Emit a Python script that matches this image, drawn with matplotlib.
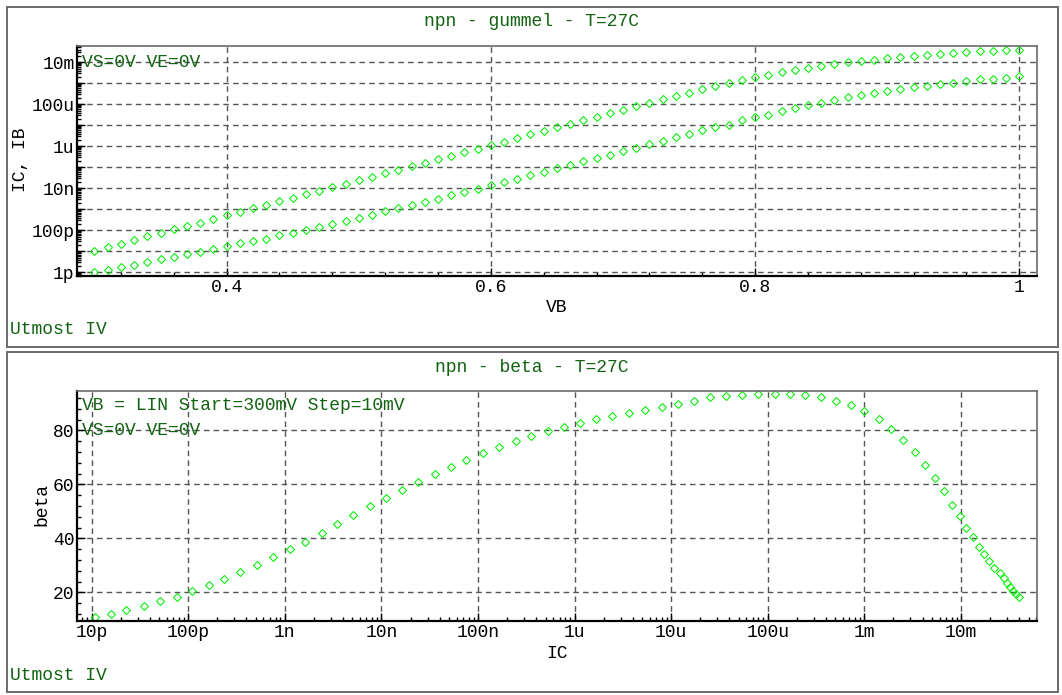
import numpy as np
import matplotlib
matplotlib.use('Agg')
import matplotlib.pyplot as plt
from matplotlib.patches import Rectangle
from matplotlib.ticker import FixedLocator, MultipleLocator, FuncFormatter, NullFormatter

# sweep VB = LIN start=300mV step=10mV
vb = [0.30, 0.31, 0.32, 0.33, 0.34, 0.35, 0.36, 0.37, 0.38, 0.39,
      0.40, 0.41, 0.42, 0.43, 0.44, 0.45, 0.46, 0.47, 0.48, 0.49,
      0.50, 0.51, 0.52, 0.53, 0.54, 0.55, 0.56, 0.57, 0.58, 0.59,
      0.60, 0.61, 0.62, 0.63, 0.64, 0.65, 0.66, 0.67, 0.68, 0.69,
      0.70, 0.71, 0.72, 0.73, 0.74, 0.75, 0.76, 0.77, 0.78, 0.79,
      0.80, 0.81, 0.82, 0.83, 0.84, 0.85, 0.86, 0.87, 0.88, 0.89,
      0.90, 0.91, 0.92, 0.93, 0.94, 0.95, 0.96, 0.97, 0.98, 0.99, 1.00]

# log10(IC)
log_ic = [-10.97, -10.80, -10.64, -10.46, -10.29, -10.12, -9.96, -9.79, -9.63, -9.46,
          -9.29, -9.12, -8.95, -8.79, -8.62, -8.46, -8.29, -8.12, -7.95, -7.79,
          -7.62, -7.45, -7.28, -7.12, -6.95, -6.78, -6.61, -6.45, -6.28, -6.11,
          -5.94, -5.78, -5.61, -5.44, -5.27, -5.10, -4.93, -4.76, -4.60, -4.43,
          -4.27, -4.10, -3.93, -3.77, -3.61, -3.45, -3.29, -3.14, -3.00, -2.85,
          -2.72, -2.60, -2.48, -2.37, -2.27, -2.18, -2.09, -2.01, -1.945, -1.873,
          -1.81, -1.76, -1.71, -1.655, -1.60, -1.555, -1.52, -1.49, -1.46, -1.43, -1.40]

# log10(IB)
log_ib = [-12.00, -11.89, -11.76, -11.67, -11.51, -11.38, -11.27, -11.14, -11.03, -10.91,
          -10.76, -10.62, -10.53, -10.40, -10.24, -10.12, -9.98, -9.84, -9.69, -9.55,
          -9.40, -9.25, -9.10, -8.96, -8.81, -8.65, -8.49, -8.34, -8.18, -8.02,
          -7.86, -7.70, -7.54, -7.38, -7.21, -7.05, -6.88, -6.72, -6.56, -6.40,
          -6.23, -6.07, -5.90, -5.74, -5.58, -5.41, -5.23, -5.10, -4.98, -4.77,
          -4.63, -4.49, -4.34, -4.20, -4.06, -3.92, -3.81, -3.68, -3.58, -3.46,
          -3.38, -3.30, -3.20, -3.11, -3.05, -2.97, -2.91, -2.81, -2.78, -2.73, -2.68]

beta = [10.7, 11.9, 13.3, 14.8, 16.7, 18.4, 20.4, 22.6, 25.0, 27.4,
        30.0, 33.0, 35.9, 38.7, 42.0, 45.3, 48.6, 51.8, 55.0, 58.0,
        60.9, 63.7, 66.4, 69.0, 71.5, 73.8, 76.0, 78.0, 79.8, 81.4,
        82.8, 84.1, 85.3, 86.5, 87.7, 88.8, 89.9, 91.0, 92.2, 92.7,
        92.9, 93.3, 93.3, 93.3, 92.9, 92.2, 90.7, 89.3, 87.0, 84.1,
        80.4, 76.3, 71.9, 67.0, 62.2, 57.4, 52.4, 48.1, 43.9, 40.4,
        36.9, 34.1, 31.5, 29.1, 27.0, 25.2, 23.3, 21.8, 20.5, 19.3, 18.4]

ic = 10.0 ** np.array(log_ic)
ib = 10.0 ** np.array(log_ib)

SI = {-12: '1p', -11: '10p', -10: '100p', -9: '1n', -8: '10n', -7: '100n',
      -6: '1u', -5: '10u', -4: '100u', -3: '1m', -2: '10m', -1: '100m'}

def si_all(v, pos):
    return SI.get(int(round(np.log10(v))), '')

def si_even(v, pos):
    e = int(round(np.log10(v)))
    return SI.get(e, '') if e % 2 == 0 else ''

def log_ticks(lo, hi):
    major = [10.0 ** e for e in range(-13, 0) if lo <= 10.0 ** e <= hi]
    minor = [k * 10.0 ** e for e in range(-13, 0) for k in range(2, 10)
             if lo <= k * 10.0 ** e <= hi]
    return major, minor

plt.rcParams['font.family'] = ['Liberation Mono', 'DejaVu Sans Mono']
W, H = 1062, 695
TXT = '#126312'
GRN = '#00f000'

fig = plt.figure(figsize=(W / 100, H / 100), dpi=100)

# panel frames
for y0, y1 in [(7.5, 346.5), (351.5, 692)]:
    fig.patches.append(Rectangle((7 / W, 1 - y1 / H), (1057.5 - 7) / W, (y1 - y0) / H,
                                 transform=fig.transFigure, fill=False, ec='#6a6a6a', lw=1.4))

ax1 = fig.add_axes([77.3 / W, 1 - 276 / H, 960 / W, 230.5 / H])
ax2 = fig.add_axes([77.3 / W, 1 - 621 / H, 960 / W, 230.3 / H])

def style(ax):
    for s in ['left', 'bottom']:
        ax.spines[s].set_color('black')
        ax.spines[s].set_linewidth(1.6)
    for s in ['top', 'right']:
        ax.spines[s].set_color('#6a6a6a')
        ax.spines[s].set_linewidth(1.2)
    ax.tick_params(which='both', direction='in', top=False, right=False,
                   labelsize=13, pad=2, width=1)
    ax.tick_params(which='major', length=6)
    ax.tick_params(which='minor', length=3)
    ax.grid(True, which='major', ls=(0, (4, 3)), color='#555555', lw=1)
    ax.set_axisbelow(True)

mk = dict(ls='none', marker='D', ms=4.5, mfc='none', mec=GRN, mew=0.75)

# gummel plot
ax1.plot(vb, ic, **mk)
ax1.plot(vb, ib, **mk)
ax1.set_yscale('log')
ylo, yhi = 10 ** -12.176, 10 ** -1.206
ax1.set_xlim(0.287, 1.0136)
ax1.set_ylim(ylo, yhi)
ax1.xaxis.set_major_locator(FixedLocator([0.4, 0.6, 0.8, 1.0]))
ax1.xaxis.set_minor_locator(FixedLocator([0.32, 0.36, 0.44, 0.48, 0.52, 0.56, 0.64, 0.68,
                                          0.72, 0.76, 0.84, 0.88, 0.92, 0.96]))
ax1.xaxis.set_major_formatter(FuncFormatter(lambda v, p: '1' if abs(v - 1) < 1e-6 else f'{v:.1f}'))
maj, mnr = log_ticks(ylo, yhi)
ax1.yaxis.set_major_locator(FixedLocator(maj))
ax1.yaxis.set_minor_locator(FixedLocator(mnr))
ax1.yaxis.set_major_formatter(FuncFormatter(si_even))
ax1.yaxis.set_minor_formatter(NullFormatter())
style(ax1)
ax1.text(0.005, 0.928, 'VS=0V VE=0V', transform=ax1.transAxes, color=TXT,
         fontsize=13, va='center', ha='left')

# beta plot
ax2.plot(ic, beta, **mk)
ax2.set_xscale('log')
xlo, xhi = 10 ** -11.149, 10 ** -1.21
ax2.set_xlim(xlo, xhi)
ax2.set_ylim(9.37, 94.67)
maj, mnr = log_ticks(xlo, xhi)
ax2.xaxis.set_major_locator(FixedLocator(maj))
ax2.xaxis.set_minor_locator(FixedLocator(mnr))
ax2.xaxis.set_major_formatter(FuncFormatter(si_all))
ax2.xaxis.set_minor_formatter(NullFormatter())
ax2.yaxis.set_major_locator(FixedLocator([20, 40, 60, 80]))
ax2.yaxis.set_minor_locator(MultipleLocator(4))
style(ax2)
ax2.text(0.005, 0.934, 'VB = LIN Start=300mV Step=10mV', transform=ax2.transAxes,
         color=TXT, fontsize=13, va='center', ha='left')
ax2.text(0.005, 0.829, 'VS=0V VE=0V', transform=ax2.transAxes,
         color=TXT, fontsize=13, va='center', ha='left')

# titles, labels, footers
fig.text(532 / W, 1 - 22 / H, 'npn - gummel - T=27C', color=TXT, fontsize=13, ha='center', va='center')
fig.text(532 / W, 1 - 367 / H, 'npn - beta - T=27C', color=TXT, fontsize=13, ha='center', va='center')
fig.text(557 / W, 1 - 308 / H, 'VB', fontsize=13, ha='center', va='center')
fig.text(557 / W, 1 - 653 / H, 'IC', fontsize=13, ha='center', va='center')
fig.text(21 / W, 1 - 160 / H, 'IC, IB', fontsize=13, ha='center', va='center', rotation=90)
fig.text(42 / W, 1 - 505 / H, 'beta', fontsize=13, ha='center', va='center', rotation=90)
fig.text(10 / W, 1 - 330 / H, 'Utmost IV', color=TXT, fontsize=13, ha='left', va='center')
fig.text(10 / W, 1 - 676 / H, 'Utmost IV', color=TXT, fontsize=13, ha='left', va='center')

fig.savefig('out.png', dpi=100)
